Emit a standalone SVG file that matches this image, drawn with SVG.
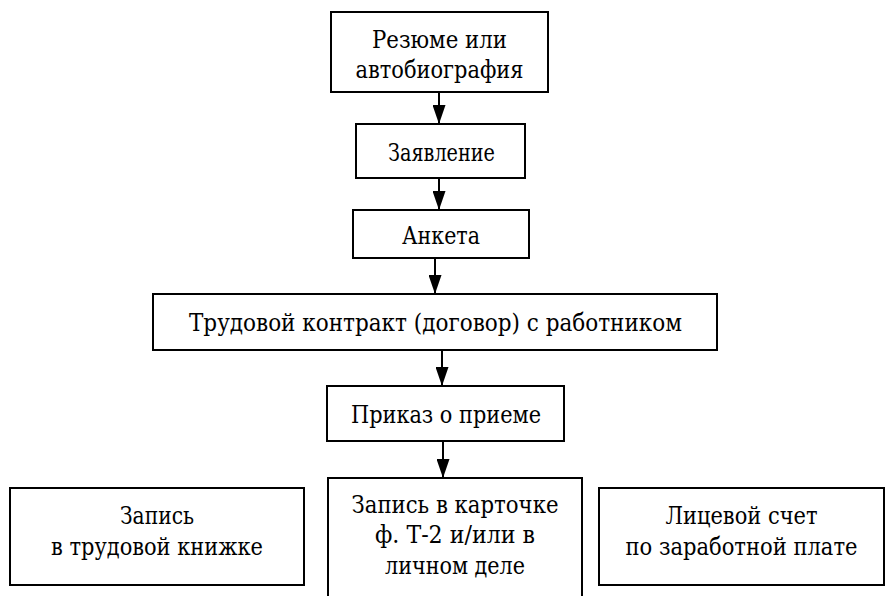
<svg xmlns="http://www.w3.org/2000/svg" width="888" height="596" viewBox="0 0 888 596">
<style>
.b{fill:#fff;stroke:#000;stroke-width:2}
.t{font-family:"DejaVu Serif Condensed","DejaVu Serif",serif;font-size:24px;fill:#000;text-anchor:middle}
.c{stroke:#000;stroke-width:2;fill:none}
</style>
<defs>
<marker id="h" markerWidth="19" markerHeight="13" refX="19" refY="6.5" orient="auto" markerUnits="userSpaceOnUse" viewBox="0 0 19 13">
<path d="M0,0 L19,6.5 L0,13 Z" fill="#000"/>
</marker>
</defs>
<g id="connectors">
<line class="c" x1="439" y1="92" x2="439" y2="124" marker-end="url(#h)"/>
<line class="c" x1="439" y1="178" x2="439" y2="210" marker-end="url(#h)"/>
<line class="c" x1="435" y1="258" x2="435" y2="294" marker-end="url(#h)"/>
<line class="c" x1="442" y1="350" x2="442" y2="386" marker-end="url(#h)"/>
<line class="c" x1="443" y1="441" x2="443" y2="478" marker-end="url(#h)"/>
</g>
<g id="n1"><rect class="b" x="331" y="12" width="217" height="80"/>
<text class="t" x="439.5" y="48" textLength="135" lengthAdjust="spacingAndGlyphs">Резюме или</text><text class="t" x="439.5" y="78" textLength="168" lengthAdjust="spacingAndGlyphs">автобиография</text></g>
<g id="n2"><rect class="b" x="356" y="124" width="169" height="54"/>
<text class="t" x="441.5" y="161" textLength="107" lengthAdjust="spacingAndGlyphs">Заявление</text></g>
<g id="n3"><rect class="b" x="353" y="210" width="176" height="48"/>
<text class="t" x="441" y="244" textLength="78" lengthAdjust="spacingAndGlyphs">Анкета</text></g>
<g id="n4"><rect class="b" x="153" y="294" width="564" height="56"/>
<text class="t" x="435.5" y="331" textLength="493" lengthAdjust="spacingAndGlyphs">Трудовой контракт (договор) с работником</text></g>
<g id="n5"><rect class="b" x="327" y="386" width="237" height="55"/>
<text class="t" x="446" y="423" textLength="190" lengthAdjust="spacingAndGlyphs">Приказ о приеме</text></g>
<g id="n6"><rect class="b" x="10" y="488" width="294" height="97"/>
<text class="t" x="157" y="524" textLength="74" lengthAdjust="spacingAndGlyphs">Запись</text><text class="t" x="157" y="555" textLength="212" lengthAdjust="spacingAndGlyphs">в трудовой книжке</text></g>
<g id="n7"><rect class="b" x="328" y="478" width="254" height="130"/>
<text class="t" x="455" y="513" textLength="207" lengthAdjust="spacingAndGlyphs">Запись в карточке</text><text class="t" x="455" y="543" textLength="160" lengthAdjust="spacingAndGlyphs">ф. Т-2 и/или в</text><text class="t" x="455" y="574" textLength="140" lengthAdjust="spacingAndGlyphs">личном деле</text></g>
<g id="n8"><rect class="b" x="599" y="488" width="285" height="97"/>
<text class="t" x="741.5" y="524" textLength="152" lengthAdjust="spacingAndGlyphs">Лицевой счет</text><text class="t" x="741.5" y="555" textLength="232" lengthAdjust="spacingAndGlyphs">по заработной плате</text></g>
</svg>
